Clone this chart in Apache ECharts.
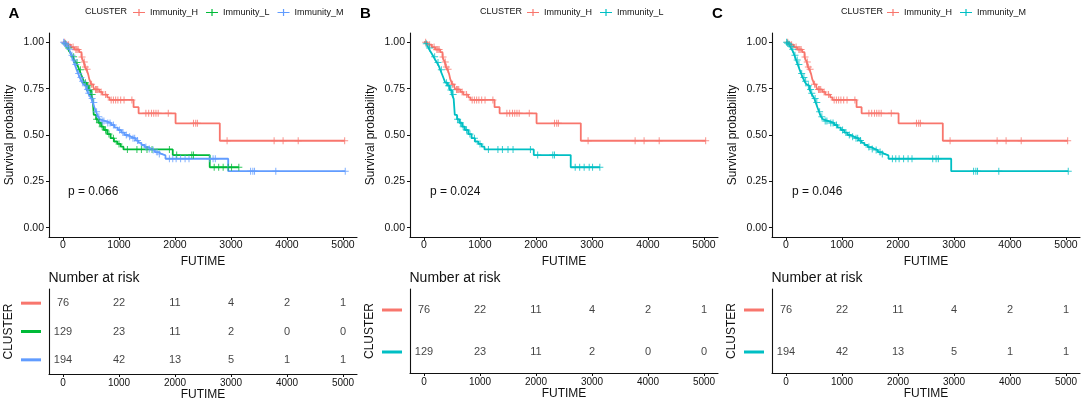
<!DOCTYPE html>
<html lang="en">
<head>
<meta charset="UTF-8">
<title>Survival by immunity cluster</title>
<style>
  * { padding: 0; margin: 0; }
  body { background: #fff; }
  #main { width: 1084px; height: 402px; }
</style>
</head>
<body>
<div id="main"></div>
<script src="https://cdn.jsdelivr.net/npm/echarts@6/dist/echarts.min.js"></script>
<script>
// Kaplan-Meier steps: event time (days) and survival just after it
var hTime = [60, 140, 200, 290, 330, 350, 370, 390, 420, 450, 470, 490, 500, 540, 560, 650, 700, 790, 830, 1260, 1350, 2010, 2800];
var hSurv = [0.987, 0.974, 0.961, 0.947, 0.921, 0.907, 0.894, 0.867, 0.854, 0.827, 0.800, 0.786, 0.773, 0.759, 0.746, 0.732, 0.718, 0.703, 0.689, 0.650, 0.617, 0.563, 0.469];
var hCens = [30, 100, 180, 230, 250, 270, 340, 380, 400, 430, 510, 580, 600, 620, 680, 760, 860, 900, 940, 980, 1030, 1090, 1230, 1480, 1530, 1580, 1620, 1660, 1700, 1880, 2330, 2370, 2400, 2930, 3770, 3930, 4200, 5030];

var lTime = [20, 50, 80, 110, 140, 170, 200, 230, 260, 290, 320, 350, 380, 420, 460, 500, 530, 550, 590, 630, 680, 730, 790, 850, 910, 970, 1030, 1080, 1960, 2620];
var lSurv = [0.992, 0.984, 0.969, 0.953, 0.938, 0.922, 0.906, 0.891, 0.875, 0.852, 0.829, 0.806, 0.782, 0.766, 0.742, 0.718, 0.695, 0.608, 0.585, 0.566, 0.545, 0.527, 0.505, 0.483, 0.465, 0.452, 0.437, 0.422, 0.392, 0.326];
var lCens = [40, 100, 190, 250, 310, 400, 440, 480, 520, 600, 650, 700, 760, 820, 900, 1000, 1150, 1320, 1400, 1500, 1590, 1900, 2030, 2300, 2330, 2700, 2780, 2860, 2950, 3010, 3140];

var mTime = [15, 40, 70, 100, 130, 150, 180, 210, 240, 268, 300, 330, 360, 390, 420, 450, 480, 505, 530, 560, 590, 625, 660, 690, 760, 860, 920, 980, 1040, 1100, 1160, 1220, 1300, 1350, 1400, 1460, 1520, 1580, 1640, 1700, 1760, 1830, 2950];
var mSurv = [0.995, 0.99, 0.979, 0.963, 0.947, 0.93, 0.905, 0.88, 0.855, 0.832, 0.81, 0.79, 0.775, 0.765, 0.745, 0.725, 0.71, 0.697, 0.675, 0.65, 0.625, 0.599, 0.585, 0.575, 0.565, 0.554, 0.54, 0.527, 0.513, 0.5, 0.49, 0.482, 0.47, 0.458, 0.446, 0.435, 0.425, 0.419, 0.408, 0.398, 0.39, 0.372, 0.305];
var mCens = [10, 30, 55, 90, 120, 160, 200, 230, 280, 320, 350, 400, 440, 460, 520, 550, 600, 640, 700, 730, 800, 840, 900, 1010, 1070, 1130, 1190, 1250, 1280, 1330, 1480, 1540, 1610, 1680, 1720, 1900, 1960, 2020, 2100, 2180, 2250, 2620, 2680, 2720, 3350, 3390, 3420, 3800, 5040];

// number at risk table
var riskTicks = [0, 1000, 2000, 3000, 4000, 5000];
var riskH = [76, 22, 11, 4, 2, 1];
var riskL = [129, 23, 11, 2, 0, 0];
var riskM = [194, 42, 13, 5, 1, 1];

var yTicks = [0, 0.25, 0.5, 0.75, 1];
var pValues = ['p = 0.066', 'p = 0.024', 'p = 0.046'];
var panelLetters = ['A', 'B', 'C'];

var RED = '#F8766D', GREEN = '#00BA38', BLUE = '#619CFF', CYAN = '#00BFC4';
var FONT = '"Liberation Sans", Arial, sans-serif';
var INK = '#111';
var PLUS = 'path://M0,3h7v1h-7z M3,0h1v7h-1z';
var KEY = 'path://M0,3.3h14v1.4h-14z M6.3,0h1.4v8h-1.4z';

var groups = {
    H: { name: 'Immunity_H', time: hTime, surv: hSurv, cens: hCens, risk: riskH },
    L: { name: 'Immunity_L', time: lTime, surv: lSurv, cens: lCens, risk: riskL },
    M: { name: 'Immunity_M', time: mTime, surv: mSurv, cens: mCens, risk: riskM }
};
var panels = [
    { keys: ['H', 'L', 'M'], colors: [RED, GREEN, BLUE] },
    { keys: ['H', 'L'], colors: [RED, CYAN] },
    { keys: ['H', 'M'], colors: [RED, CYAN] }
];

// layout in px
var gridLeft = [49, 410, 772];
var legendLeft = [133, 527, 887];
var clusterX = [85, 480, 841];
var letterX = [8.5, 360, 712];
var pX = [68, 430, 792];

function survAt(g, t) {
    var s = 1;
    for (var i = 0; i < g.time.length; i++) {
        if (g.time[i] <= t) s = g.surv[i];
    }
    return s;
}
function stepData(g) {
    var d = [[0, 1]];
    for (var i = 0; i < g.time.length; i++) d.push([g.time[i], g.surv[i]]);
    var last = Math.max(g.time[g.time.length - 1], g.cens[g.cens.length - 1]);
    d.push([last, g.surv[g.surv.length - 1]]);
    return d;
}

function axisBase() {
    return {
        axisLine: { show: true, onZero: false, lineStyle: { color: INK, width: 1.1 } },
        splitLine: { show: false },
        nameTextStyle: { fontFamily: FONT, fontSize: 12, color: INK }
    };
}
function plain(v) { return String(v); }

var myChart = echarts.init(document.getElementById('main'));
var grids = [], xAxes = [], yAxes = [], series = [], legends = [], graphics = [];

panels.forEach(function (p, k) {
    var gi = k * 2;
    var rows = p.keys.length;
    grids.push({ left: gridLeft[k], top: 33, width: 308, height: 204 });
    grids.push({ left: gridLeft[k], top: 289, width: 308, height: rows === 3 ? 86 : 84 });

    // survival plot axes
    xAxes.push(Object.assign(axisBase(), {
        gridIndex: gi, type: 'value', min: -250, max: 5250,
        name: 'FUTIME', nameLocation: 'middle', nameGap: 11,
        axisTick: { show: true, length: 3, customValues: riskTicks, lineStyle: { color: INK } },
        axisLabel: { customValues: riskTicks, margin: 3, fontSize: 10.5, color: INK, fontFamily: FONT, formatter: plain }
    }));
    yAxes.push(Object.assign(axisBase(), {
        gridIndex: gi, type: 'value', min: -0.05, max: 1.05,
        name: 'Survival probability', nameLocation: 'middle', nameGap: 33,
        axisTick: { show: true, length: 3, customValues: yTicks, lineStyle: { color: INK } },
        axisLabel: {
            customValues: yTicks, margin: 5, fontSize: 10.5, color: INK, fontFamily: FONT,
            formatter: function (v) { return v.toFixed(2); }
        }
    }));

    // risk table axes
    var rich = {};
    p.colors.forEach(function (c, i) { rich['b' + i] = { backgroundColor: c, width: 20, height: 3 }; });
    xAxes.push(Object.assign(axisBase(), {
        gridIndex: gi + 1, type: 'value', min: -250, max: 5250,
        name: 'FUTIME', nameLocation: 'middle', nameGap: 15,
        axisTick: { show: true, length: 3, customValues: riskTicks, lineStyle: { color: INK } },
        axisLabel: { customValues: riskTicks, margin: 4, fontSize: 10, color: INK, fontFamily: FONT, formatter: plain }
    }));
    yAxes.push(Object.assign(axisBase(), {
        gridIndex: gi + 1, type: 'category', inverse: true,
        data: p.keys.map(function (key) { return groups[key].name; }),
        name: 'CLUSTER', nameLocation: 'middle', nameGap: 34,
        axisTick: { show: false },
        axisLabel: {
            margin: 8,
            formatter: function (v, i) { return '{b' + i + '|}'; },
            rich: rich
        }
    }));

    p.keys.forEach(function (key, i) {
        var g = groups[key], col = p.colors[i];
        series.push({
            type: 'line', name: g.name, xAxisIndex: gi, yAxisIndex: gi,
            step: 'end', showSymbol: false, symbol: 'none',
            lineStyle: { color: col, width: 1.8 }, itemStyle: { color: col },
            data: stepData(g), z: 3
        });
        series.push({
            type: 'scatter', name: 'censor', xAxisIndex: gi, yAxisIndex: gi,
            symbol: PLUS, symbolSize: 7, itemStyle: { color: col },
            data: g.cens.map(function (t) { return [t, survAt(g, t)]; }), z: 4
        });
        series.push({
            type: 'scatter', name: 'risk', xAxisIndex: gi + 1, yAxisIndex: gi + 1,
            symbolSize: 1, itemStyle: { color: 'rgba(0,0,0,0)' },
            data: riskTicks.map(function (t, j) { return [t, i, g.risk[j]]; }),
            label: {
                show: true, position: 'inside', fontSize: 11, color: INK, fontFamily: FONT,
                formatter: function (d) { return String(d.value[2]); }
            }
        });
    });

    legends.push({
        left: legendLeft[k], top: 8, padding: 0, itemWidth: 12, itemHeight: 8, itemGap: 8,
        icon: KEY, selectedMode: false,
        textStyle: { fontSize: 9, color: INK, fontFamily: FONT },
        data: p.keys.map(function (key, i) {
            return { name: groups[key].name, itemStyle: { color: p.colors[i] } };
        })
    });

    graphics.push(
        { type: 'text', x: letterX[k], y: 13.5, style: { text: panelLetters[k], font: 'bold 15px ' + FONT, fill: '#000', textVerticalAlign: 'middle' } },
        { type: 'text', x: clusterX[k], y: 12, style: { text: 'CLUSTER', font: '9px ' + FONT, fill: INK, textVerticalAlign: 'middle' } },
        { type: 'text', x: pX[k], y: 192, style: { text: pValues[k], font: '12px ' + FONT, fill: INK, textVerticalAlign: 'middle' } },
        { type: 'text', x: gridLeft[k] - 0.5, y: 278, style: { text: 'Number at risk', font: '14px ' + FONT, fill: INK, textVerticalAlign: 'middle' } }
    );
});

option = {
    backgroundColor: '#fff',
    animation: false,
    textStyle: { fontFamily: FONT },
    grid: grids,
    xAxis: xAxes,
    yAxis: yAxes,
    legend: legends,
    series: series,
    graphic: graphics
};
myChart.setOption(option);
</script>
</body>
</html>
